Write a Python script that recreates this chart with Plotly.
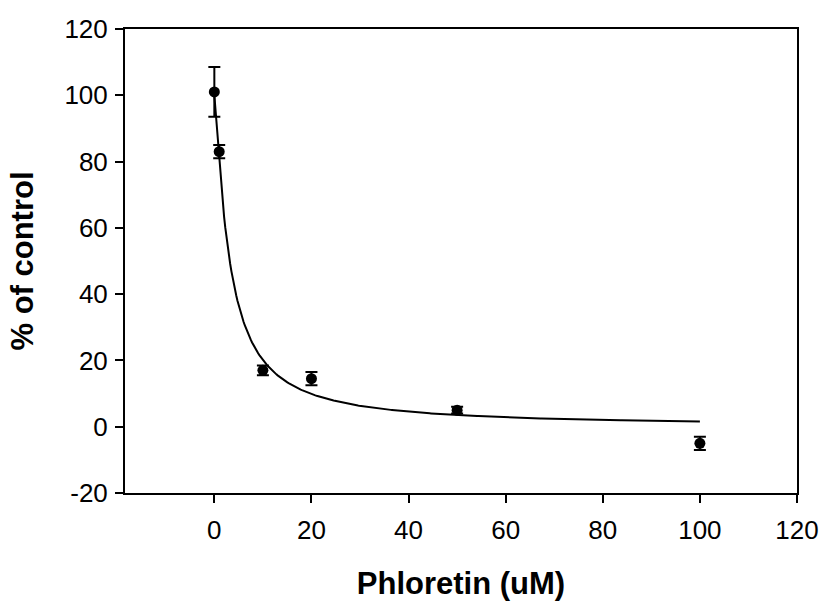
import numpy as np
import plotly.graph_objects as go

# Observed data
conc = [0, 1, 10, 20, 50, 100]
pct = [101, 83, 17, 14.5, 5, -5]
err = [7.5, 2, 1.5, 2, 1, 2]

# Axis ticks
x_ticks = [0, 20, 40, 60, 80, 100, 120]
y_ticks = [-20, 0, 20, 40, 60, 80, 100, 120]
y_tick_labels = ["-20", "0", "20", "40", "60", "80", "100", "120"]

# Fitted dose-response parameters (Hill)
top = 100.0
ic50 = 3.17
hill = 1.2
x_fit = np.linspace(0, 100, 400)
y_fit = top / (1 + (x_fit / ic50) ** hill)

FONT = "Liberation Sans, Arial"

fig = go.Figure()
fig.add_trace(go.Scatter(x=x_fit, y=y_fit, mode="lines",
                         line=dict(color="black", width=2), showlegend=False))
fig.add_trace(go.Scatter(x=conc, y=pct, mode="markers",
                         marker=dict(color="black", size=11, symbol="circle"),
                         error_y=dict(type="data", array=err, color="black",
                                      thickness=2, width=6),
                         showlegend=False))

axis_common = dict(showline=True, linecolor="black", linewidth=2, mirror=True,
                   ticks="outside", ticklen=8, tickwidth=2, tickcolor="black",
                   showgrid=False, zeroline=False, automargin=False,
                   tickfont=dict(family=FONT, size=26, color="black"))

fig.update_layout(
    width=823, height=604,
    margin=dict(l=125, r=26, t=29, b=111),
    plot_bgcolor="white", paper_bgcolor="white",
    xaxis=dict(range=[-18.4, 120], tickvals=x_ticks, ticklabelstandoff=5,
               title=dict(text="<b>Phloretin (uM)</b>", standoff=28,
                          font=dict(family=FONT, size=31, color="black")),
               **axis_common),
    yaxis=dict(range=[-20, 120], tickvals=y_ticks, ticktext=y_tick_labels,
               ticklabelstandoff=2,
               title=dict(text="<b>% of control</b>", standoff=22,
                          font=dict(family=FONT, size=31, color="black")),
               **axis_common),
)

fig.write_html("out.html", config={"displayModeBar": False},
               post_script="document.body.style.margin='0';")
